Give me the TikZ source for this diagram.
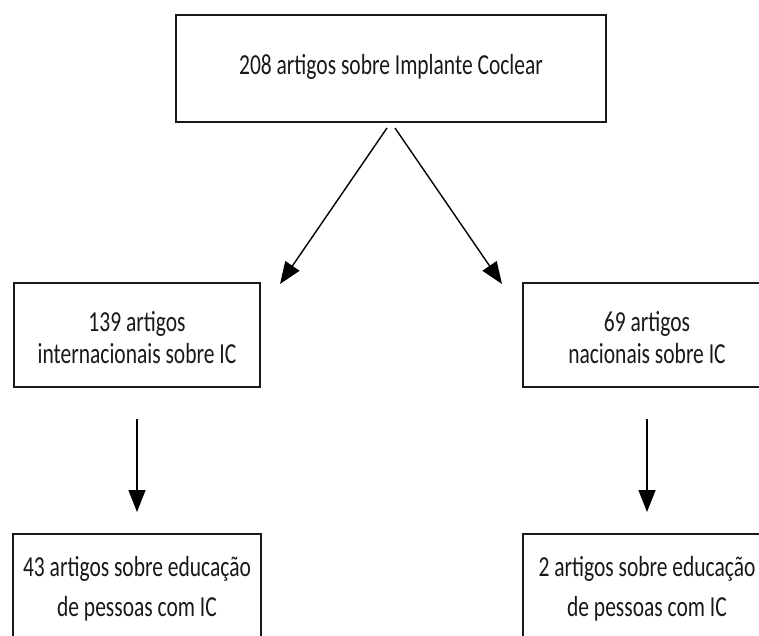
\documentclass[tikz,border=0pt]{standalone}
\usepackage{fontspec}
\setmainfont{Carlito}
\usetikzlibrary{arrows.meta}

\newcommand{\esticar}[1]{\scalebox{1}[1.35]{\begin{tabular}{@{}c@{}}#1\end{tabular}}}

\begin{document}
\begin{tikzpicture}[x=1pt,y=-1pt]
				\tikzstyle{caixa}=[draw=black!90,line width=2pt,rectangle,inner sep=0pt,
				font=\fontsize{21.5}{24}\selectfont,text=black!90]
				\tikzstyle{seta}=[line width=1.4pt,draw=black,
				-{Triangle[length=22pt,width=17pt]}]
				\clip (0,0) rectangle (759,635);
				\fill[white] (0,0) rectangle (759,635);
				% nivel 1
				\node[caixa,minimum width=430pt,minimum height=107pt] (total) at (391,68.5)
				{\esticar{208 artigos sobre Implante Coclear}};
				% nivel 2
				\node[caixa,minimum width=246pt,minimum height=104pt] (internac) at (137,335)
				{\raisebox{-6pt}[\height][\depth]{\esticar{139 artigos\\ internacionais sobre IC}}};
				\node[caixa,minimum width=248pt,minimum height=104pt] (nac) at (647,335)
				{\raisebox{-6pt}[\height][\depth]{\esticar{69 artigos\\ nacionais sobre IC}}};
				% nivel 3
				\node[caixa,minimum width=248pt,minimum height=112pt] (educinternac) at (137,590)
				{\esticar{43 artigos sobre educação\\[6pt] de pessoas com IC}};
				\node[caixa,minimum width=248pt,minimum height=112pt] (educnac) at (647,590)
				{\esticar{2 artigos sobre educação\\[6pt] de pessoas com IC}};
				% setas
				\draw[seta] ([xshift=-4pt,yshift=-5pt]total.south) -- ([xshift=19pt,yshift=-2pt]internac.north east);
				\draw[seta] ([xshift=4pt,yshift=-5pt]total.south) -- ([xshift=-20pt,yshift=-2pt]nac.north west);
				\draw[seta,shorten <=31pt,shorten >=21pt] (internac.south) -- (educinternac.north);
				\draw[seta,shorten <=31pt,shorten >=21pt] (nac.south) -- (educnac.north);
				\end{tikzpicture}
\end{document}
